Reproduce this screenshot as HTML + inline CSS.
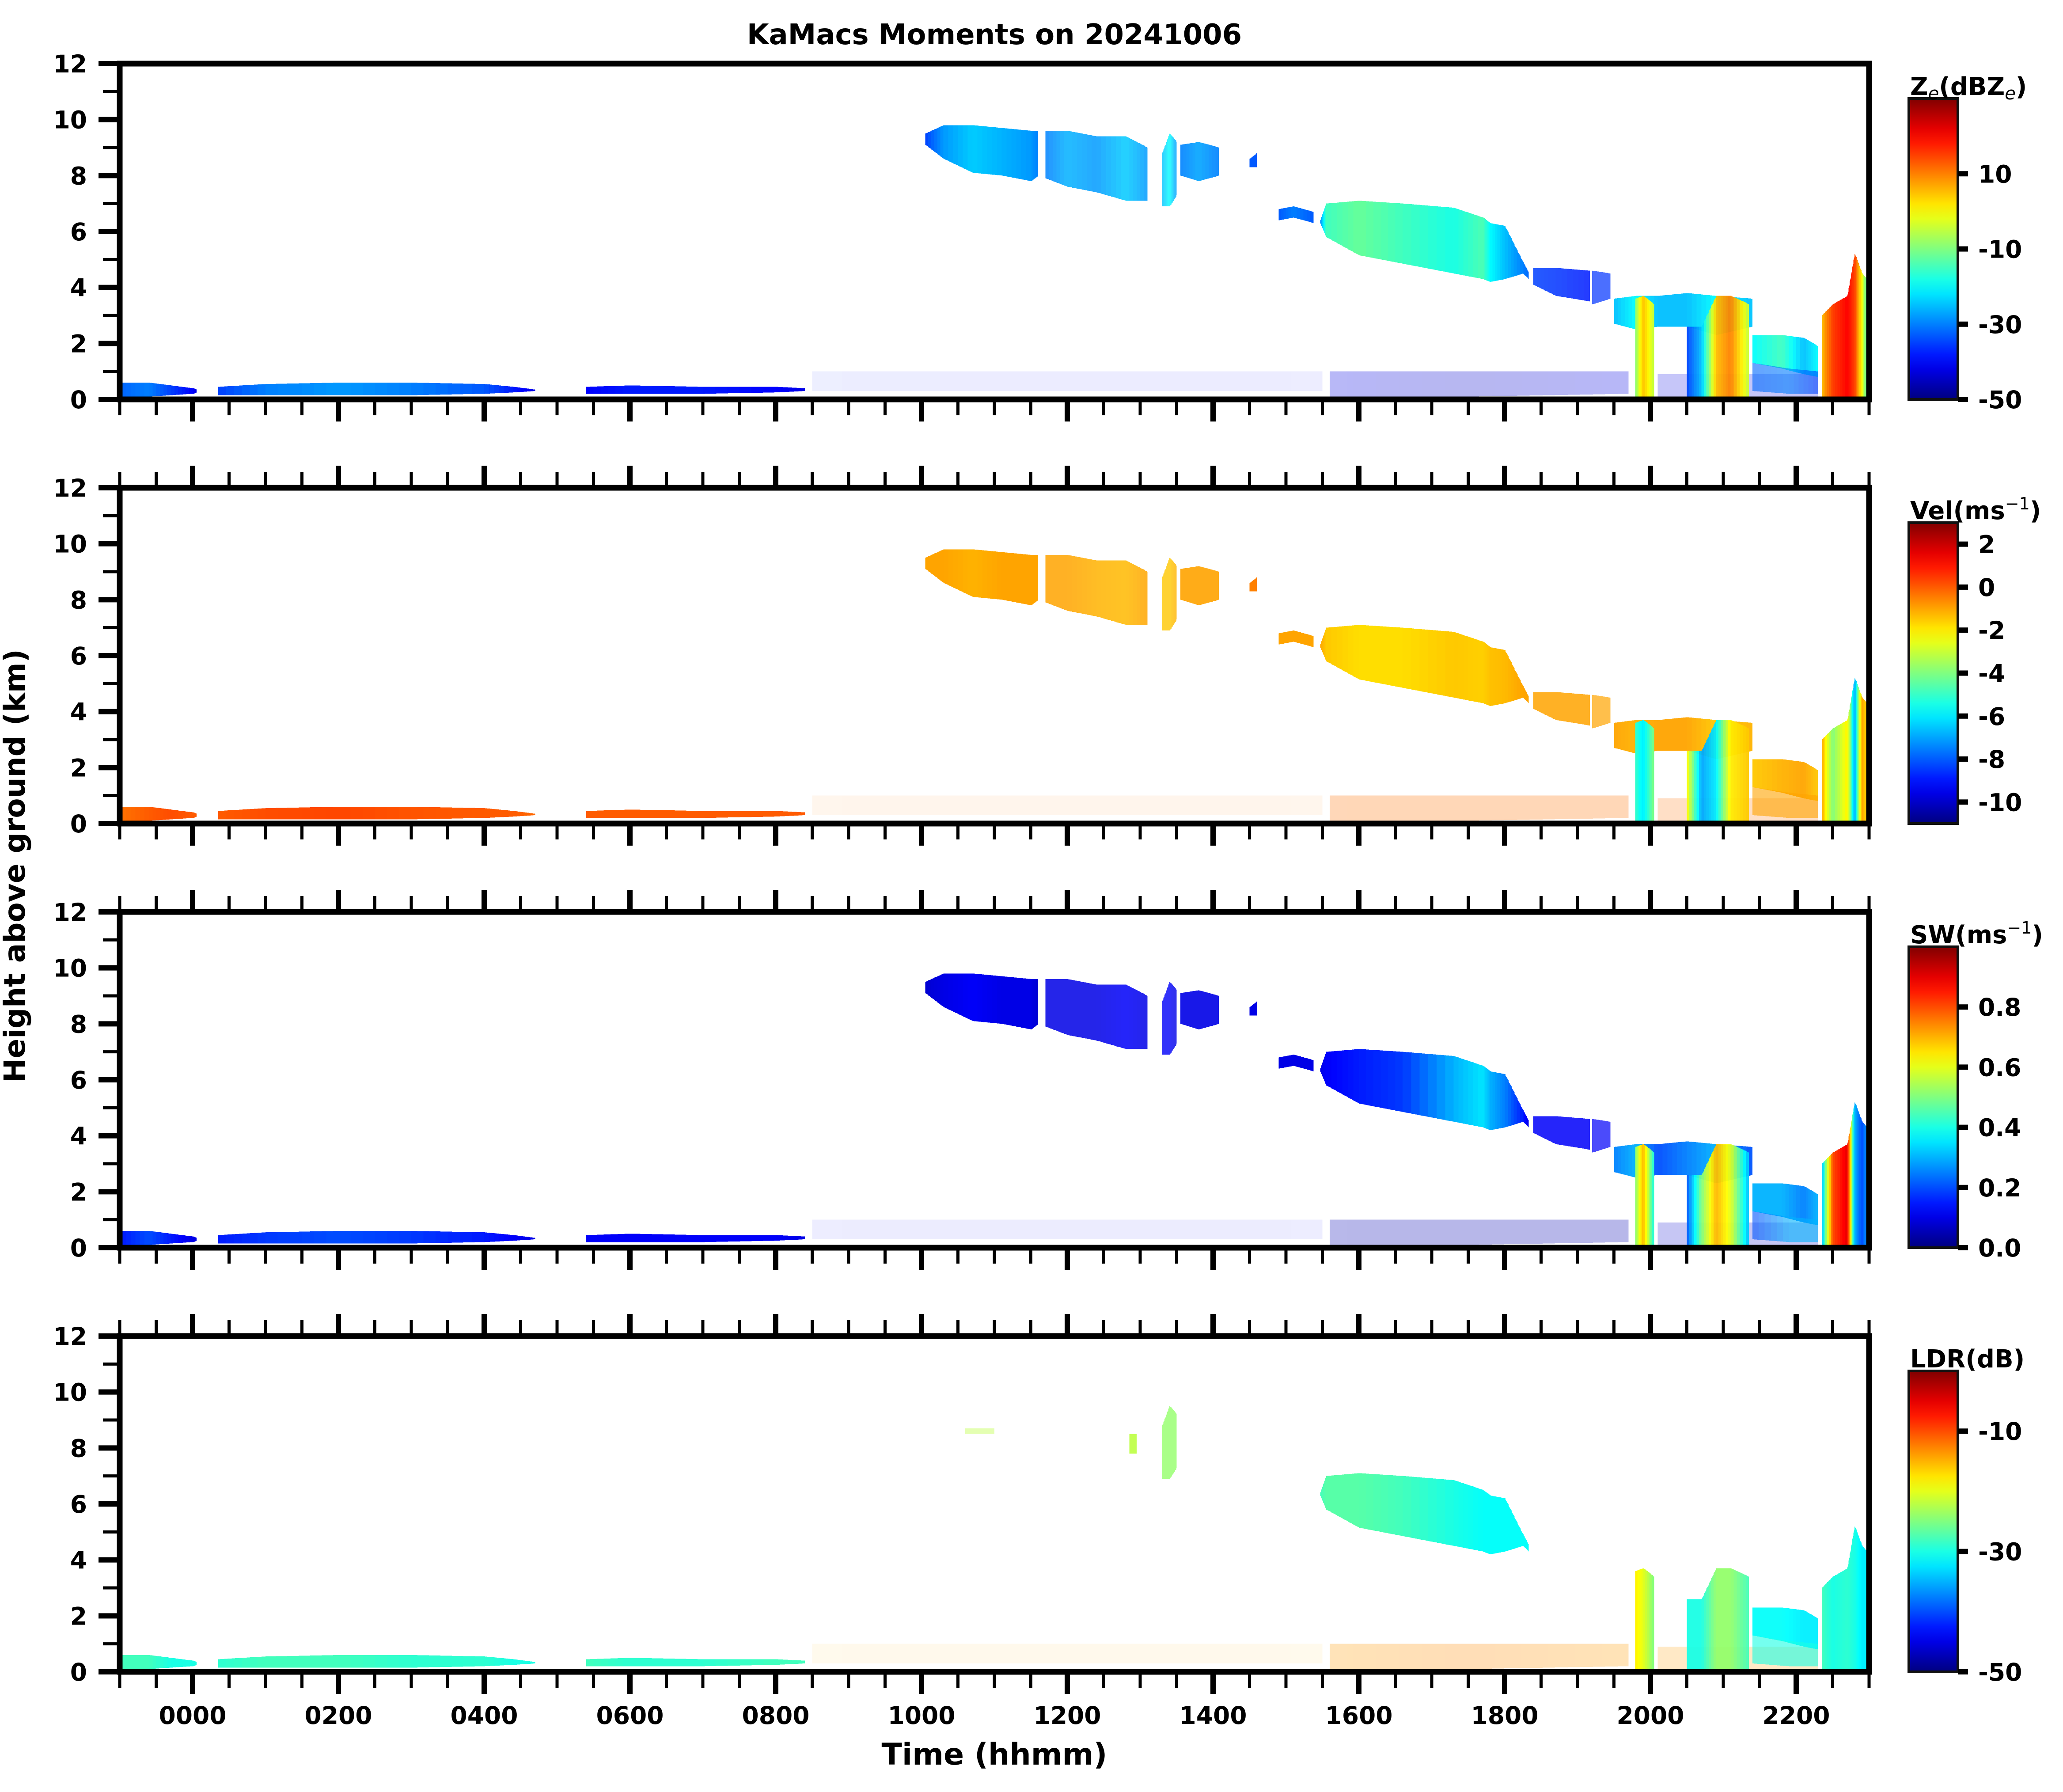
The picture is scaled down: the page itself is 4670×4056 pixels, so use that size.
<!DOCTYPE html>
<html><head><meta charset="utf-8">
<style>
html,body{margin:0;padding:0;background:#fff;}
svg{display:block;font-family:"DejaVu Sans","Liberation Sans",sans-serif;font-weight:bold;}
</style></head>
<body>
<svg id="fig" xmlns="http://www.w3.org/2000/svg" width="4670" height="4056" viewBox="0 0 4670 4056">
<rect width="4670" height="4056" fill="#fff"/>
<text x="2251" y="100" font-size="64" text-anchor="middle">KaMacs Moments on 20241006</text>
<text x="0" y="0" font-size="66" text-anchor="middle" transform="translate(56,1960) rotate(-90)">Height above ground (km)</text>
<text x="2251" y="3994" font-size="68" text-anchor="middle">Time (hhmm)</text>
</svg>
<script>
// ---- data: time ticks ----
const xMajorTicks = [0,2,4,6,8,10,12,14,16,18,20,22];
const xTickLabels = ["0000","0200","0400","0600","0800","1000","1200","1400","1600","1800","2000","2200"];
const yMajorTicks = [0,2,4,6,8,10,12];
const zTicks = [10,-10,-30,-50];
const velTicks = [2,0,-2,-4,-6,-8,-10];
const swTicks = [0.8,0.6,0.4,0.2,0.0];
const ldrTicks = [-10,-30,-50];

// ---- data: echo layers (time in hours, heights in km, values per moment) ----
const layerBL1 = {t:[-0.97,-0.6,-0.3,0.0,0.05], lo:[0.1,0.1,0.15,0.2,0.25], hi:[0.6,0.6,0.5,0.4,0.35], z:[-32,-30,-35,-40,-42], vel:[-0.3,0,0.2,0,0], sw:[0.15,0.2,0.15,0.1,0.1], ldr:[-28,-28,-30,-30,-30], op:1};
const layerBL2 = {t:[0.35,1,2,3,4,4.4,4.7], lo:[0.15,0.15,0.15,0.15,0.2,0.25,0.3], hi:[0.45,0.55,0.6,0.6,0.55,0.45,0.35], z:[-35,-30,-28,-30,-33,-38,-42], vel:[0,0.2,0.3,0.1,0,0,-0.2], sw:[0.15,0.18,0.2,0.18,0.15,0.12,0.1], ldr:[-29,-28,-28,-29,-29,-30,-30], op:1};
const layerBL3 = {t:[5.4,6,7,8,8.4], lo:[0.2,0.2,0.2,0.25,0.3], hi:[0.45,0.5,0.45,0.45,0.4], z:[-40,-38,-38,-40,-42], vel:[0,0,0,0,0], sw:[0.12,0.12,0.12,0.12,0.1], ldr:[-28,-29,-29,-28,-28], op:1};
const layerCI1 = {t:[10.05,10.3,10.7,11.1,11.5,11.6], lo:[9.1,8.6,8.1,8.0,7.8,8.0], hi:[9.5,9.8,9.8,9.7,9.6,9.6], z:[-35,-28,-24,-26,-28,-30], vel:[-1,-1,-1.2,-1,-1,-1], sw:[0.08,0.1,0.12,0.1,0.1,0.08], ldr:null, op:1};
const layerCI2 = {t:[11.7,12.0,12.4,12.8,13.1], lo:[7.9,7.6,7.4,7.1,7.1], hi:[9.6,9.6,9.4,9.4,9.0], z:[-30,-26,-28,-24,-28], vel:[-1,-1,-1.2,-1.3,-1], sw:[0.1,0.1,0.1,0.12,0.1], ldr:null, op:0.85};
const layerCI3 = {t:[13.3,13.4,13.5], lo:[6.9,6.9,7.3], hi:[8.8,9.5,9.2], z:[-25,-20,-28], vel:[-1.5,-1.5,-1.2], sw:[0.12,0.12,0.1], ldr:[-24,-24,-24], op:0.8};
const layerCI4 = {t:[13.55,13.8,14.08], lo:[8.0,7.8,8.0], hi:[9.1,9.2,9.0], z:[-30,-27,-30], vel:[-1,-1,-1], sw:[0.1,0.1,0.1], ldr:null, op:0.9};
const layerCI5 = {t:[14.5,14.6], lo:[8.3,8.3], hi:[8.6,8.8], z:[-33,-33], vel:[-0.5,-0.5], sw:[0.1,0.1], ldr:null, op:1};
const layerLC1 = {t:[10.6,11.0], lo:[8.5,8.5], hi:[8.7,8.7], z:null, vel:null, sw:null, ldr:[-22,-22], op:0.4};
const layerLC2 = {t:[12.85,12.95], lo:[7.8,7.8], hi:[8.5,8.5], z:null, vel:null, sw:null, ldr:[-22,-22], op:0.9};
const layerC0 = {t:[14.9,15.1,15.38], lo:[6.4,6.5,6.3], hi:[6.8,6.9,6.7], z:[-33,-30,-33], vel:[-1,-1,-1], sw:[0.1,0.1,0.1], ldr:null, op:1};
const layerCM = {t:[15.47,15.55,16.0,16.6,17.3,17.7,17.8,18.0,18.25,18.33], lo:[6.3,5.8,5.15,4.85,4.5,4.3,4.2,4.3,4.5,4.3], hi:[6.4,7.0,7.1,7.0,6.85,6.5,6.3,6.2,4.9,4.5], z:[-30,-15,-12,-15,-18,-14,-20,-25,-30,-32], vel:[-1,-1.5,-1.8,-1.8,-1.5,-1.6,-1.4,-1.3,-1,-1], sw:[0.1,0.12,0.15,0.18,0.3,0.35,0.3,0.25,0.15,0.1], ldr:[-28,-27,-27,-28,-30,-31,-31,-31,-31,-31], op:1};
const layerC2 = {t:[18.39,18.7,19.17], lo:[4.1,3.7,3.5], hi:[4.7,4.7,4.6], z:[-35,-36,-38], vel:[-1,-1,-1], sw:[0.12,0.12,0.12], ldr:null, op:0.85};
const layerC3 = {t:[19.2,19.45], lo:[3.4,3.6], hi:[4.6,4.5], z:[-36,-36], vel:[-1,-1], sw:[0.12,0.12], ldr:null, op:0.7};
const layerD1 = {t:[19.5,19.8,20.1,20.5,20.9,21.4], lo:[2.7,2.5,2.6,2.6,2.3,2.6], hi:[3.6,3.7,3.7,3.8,3.7,3.6], z:[-25,-20,-25,-25,-20,-25], vel:[-1,-1.2,-1,-1,-1.5,-1.2], sw:[0.25,0.3,0.2,0.25,0.3,0.2], ldr:null, op:0.95};
const layerD2 = {t:[19.79,19.9,20.05], lo:[0,0,0], hi:[3.6,3.7,3.4], z:[-10,5,-5], vel:[-5,-6,-4], sw:[0.5,0.7,0.4], ldr:[-18,-20,-25], op:1};
const layerD3 = {t:[20.5,20.7,20.9,21.1,21.35], lo:[0,0,0,0,0], hi:[2.6,2.6,3.7,3.7,3.4], z:[-35,-25,5,10,-5], vel:[-2,-7,-6,-2,-1.5], sw:[0.2,0.5,0.7,0.6,0.3], ldr:[-30,-30,-24,-24,-28], op:0.95};
const layerD4 = {t:[21.4,21.8,22.1,22.3], lo:[1.3,1.1,0.9,0.8], hi:[2.3,2.3,2.2,1.9], z:[-20,-15,-25,-20], vel:[-1.5,-1.2,-1,-1.5], sw:[0.3,0.3,0.25,0.3], ldr:[-31,-31,-32,-32], op:0.95};
const layerD4b = {t:[21.4,21.9,22.3], lo:[0.3,0.2,0.2], hi:[1.3,1.1,1.0], z:[-32,-30,-35], vel:[-1,-1,-1], sw:[0.2,0.3,0.3], ldr:[-30,-30,-30], op:0.6};
const layerD5 = {t:[22.35,22.5,22.7,22.8,22.9,23], lo:[0,0,0,0,0,0], hi:[3.0,3.4,3.7,5.2,4.5,4.2], z:[5,15,20,15,0,-20], vel:[-1,-4,-2,-7,-1,-2], sw:[0.3,0.8,0.9,0.3,0.2,0.3], ldr:[-28,-30,-29,-30,-32,-32], op:1};
const layerCL1 = {t:[8.5,12,15.5], lo:[0.3,0.3,0.3], hi:[1.0,1.0,1.0], z:[-38,-40,-40], vel:[-0.5,-0.5,-0.5], sw:[0.12,0.12,0.12], ldr:[-15,-15,-15], op:0.07};
const layerCL2 = {t:[15.6,17.5,19.7], lo:[0.1,0.1,0.2], hi:[1.0,1.0,1.0], z:[-42,-44,-42], vel:[-0.3,-0.3,-0.3], sw:[0.05,0.05,0.05], ldr:[-14,-13,-14], op:0.28};
const layerCL3 = {t:[20.1,21.3,22.3], lo:[0,0,0], hi:[0.9,0.9,0.9], z:[-42,-42,-42], vel:[-0.3,-0.3,-0.3], sw:[0.08,0.08,0.08], ldr:[-14,-14,-14], op:0.22};

const layers = [layerCL1,layerCL2,layerCL3,layerBL1,layerBL2,layerBL3,layerCI1,layerCI2,layerCI3,layerCI4,layerCI5,layerLC1,layerLC2,layerC0,layerCM,layerC2,layerC3,layerD1,layerD2,layerD3,layerD4,layerD4b,layerD5];
const layerNames = ["clutter-midday","clutter-afternoon","clutter-evening","bl-cloud-1","bl-cloud-2","bl-cloud-3","cirrus-1","cirrus-2","cirrus-3","cirrus-4","cirrus-5","ldr-cirrus-1","ldr-cirrus-2","midlevel-0","midlevel-main","midlevel-2","midlevel-3","low-band","precip-column-1","precip-column-2","low-band-2","low-band-3","rain-shaft"];

const panels = [
 {key:'z', min:-50, max:30, ticks:zTicks, name:'reflectivity'},
 {key:'vel', min:-11, max:3, ticks:velTicks, name:'velocity'},
 {key:'sw', min:0, max:1, ticks:swTicks, name:'spectrum-width'},
 {key:'ldr', min:-50, max:0, ticks:ldrTicks, name:'ldr'}
];

// ---- geometry ----
const NS = "http://www.w3.org/2000/svg";
const svg = document.getElementById('fig');
const L = 271, R = 4231, PH = 760, STEP = 960, TOP0 = 144;
const xS = h => L + (h + 1) * 165;
const yS = (km, k) => TOP0 + k*STEP + PH - km * PH / 12;
function jet(f){
  f = Math.max(0, Math.min(1, f));
  const c = v => Math.round(255*Math.max(0, Math.min(1, v)));
  return `rgb(${c(1.5-Math.abs(4*f-3))},${c(1.5-Math.abs(4*f-2))},${c(1.5-Math.abs(4*f-1))})`;
}
function el(tag, attrs, parent){
  const e = document.createElementNS(NS, tag);
  for (const k in attrs) e.setAttribute(k, attrs[k]);
  (parent || svg).appendChild(e);
  return e;
}
const defs = el('defs', {});
const cbGrad = el('linearGradient', {id:'jetgrad', x1:0, y1:1, x2:0, y2:0}, defs);
for (let i = 0; i <= 20; i++) el('stop', {offset: i/20, 'stop-color': jet(i/20)}, cbGrad);

const cbTitles = [
  ['Z', 'e', '(dBZ', 'e', ')'],
  ['Vel(ms', '−1', ')'],
  ['SW(ms', '−1', ')'],
  ['LDR(dB)']
];

panels.forEach((p, k) => {
  const top = TOP0 + k*STEP, bot = top + PH;
  const g = el('g', {});
  
  
  const cp = el('clipPath', {id:'clip'+k}, defs);
  el('rect', {x:L, y:top, width:R-L, height:PH}, cp);
  const dg = el('g', {'clip-path':`url(#clip${k})`}, g);
  
  
  layers.forEach((ly, li) => {
    const vals = ly[p.key];
    if (!vals) return;
    const lg = el('g', {opacity: ly.op, 'shape-rendering':'crispEdges'}, dg);
    
    
    const last = ly.t.length - 2;
    for (let i = 0; i <= last; i++) {
      const N = 6;
      for (let s = 0; s < N; s++) {
        const a = s/N, b = (s+1)/N;
        const ta = ly.t[i] + (ly.t[i+1]-ly.t[i])*a, tb = ly.t[i] + (ly.t[i+1]-ly.t[i])*b;
        const loA = ly.lo[i] + (ly.lo[i+1]-ly.lo[i])*a, loB = ly.lo[i] + (ly.lo[i+1]-ly.lo[i])*b;
        const hiA = ly.hi[i] + (ly.hi[i+1]-ly.hi[i])*a, hiB = ly.hi[i] + (ly.hi[i+1]-ly.hi[i])*b;
        const v = vals[i] + (vals[i+1]-vals[i])*(a+b)/2;
        const ov = (i === last && s === N-1) ? 0 : 2;
        const poly = el('polygon', {
          points: `${xS(ta)},${yS(loA,k)} ${xS(ta)},${yS(hiA,k)} ${xS(tb)+ov},${yS(hiB,k)} ${xS(tb)+ov},${yS(loB,k)}`,
          fill: jet((v - p.min)/(p.max - p.min))
        }, lg);
        
        
      }
    }
  });
  // frame
  const fr = el('rect', {x:L, y:top, width:R-L, height:PH, fill:'none', stroke:'#000', 'stroke-width':13}, g);
  
  
  // y ticks
  for (let km = 0; km <= 12; km++) {
    const major = km % 2 === 0;
    const y = yS(km, k);
    const tk = el('line', {x1: L - (major?48:38), x2: L, y1: y, y2: y, stroke:'#000', 'stroke-width': major?12:7}, g);
    
    
  }
  yMajorTicks.forEach(km => {
    const t = el('text', {x:197, y: yS(km,k)+20, 'font-size':55, 'text-anchor':'end'}, g);
    
    
    t.textContent = km;
  });
  // x ticks
  for (let h = -1; h <= 23.001; h += 0.5) {
    const major = xMajorTicks.includes(h);
    const x = xS(h), len = major ? 50 : 36, w = major ? 12 : 7;
    const tb = el('line', {x1:x, x2:x, y1:bot, y2:bot+len, stroke:'#000', 'stroke-width':w}, g);
    
    
    if (k > 0) {
      const tt = el('line', {x1:x, x2:x, y1:top-len, y2:top, stroke:'#000', 'stroke-width':w}, g);
      
      
    }
  }
  if (k === 3) {
    xMajorTicks.forEach((h, i) => {
      const t = el('text', {x: xS(h), y: bot + 118, 'font-size':55, 'text-anchor':'middle'}, g);
      
      
      t.textContent = xTickLabels[i];
    });
  }
  // colorbar
  const cbTop = top + 79, cbBot = bot;
  const cb = el('rect', {x:4321, y:cbTop, width:111, height:cbBot-cbTop, fill:'url(#jetgrad)', stroke:'#111', 'stroke-width':6}, g);
  
  
  const cs = v => cbBot - (v - p.min)/(p.max - p.min)*(cbBot - cbTop);
  p.ticks.forEach(v => {
    const y = cs(v);
    const tk = el('line', {x1:4432, x2:4455, y1:y, y2:y, stroke:'#000', 'stroke-width':12}, g);
    
    
    const t = el('text', {x:4478, y:y+20, 'font-size':55}, g);
    
    
    t.textContent = (p.key === 'sw') ? v.toFixed(1) : v;
  });
  const tt = el('text', {x:4324, y:cbTop-8, 'font-size':56}, g);
  
  
  const parts = cbTitles[k];
  if (k === 0) {
    const s1 = el('tspan', {}, tt); s1.textContent = 'Z';
    const s2 = el('tspan', {'font-size':40, 'font-weight':'normal', 'font-style':'italic', dy:10}, tt); s2.textContent = 'e';
    const s3 = el('tspan', {dy:-10}, tt); s3.textContent = '(dBZ';
    const s4 = el('tspan', {'font-size':40, 'font-weight':'normal', 'font-style':'italic', dy:10}, tt); s4.textContent = 'e';
    const s5 = el('tspan', {dy:-10}, tt); s5.textContent = ')';
  } else if (parts.length === 3) {
    const s1 = el('tspan', {}, tt); s1.textContent = parts[0];
    const s2 = el('tspan', {'font-size':38, 'font-weight':'normal', dy:-22}, tt); s2.textContent = parts[1];
    const s3 = el('tspan', {dy:22}, tt); s3.textContent = parts[2];
  } else {
    tt.textContent = parts[0];
  }
});
</script>
</body></html>
